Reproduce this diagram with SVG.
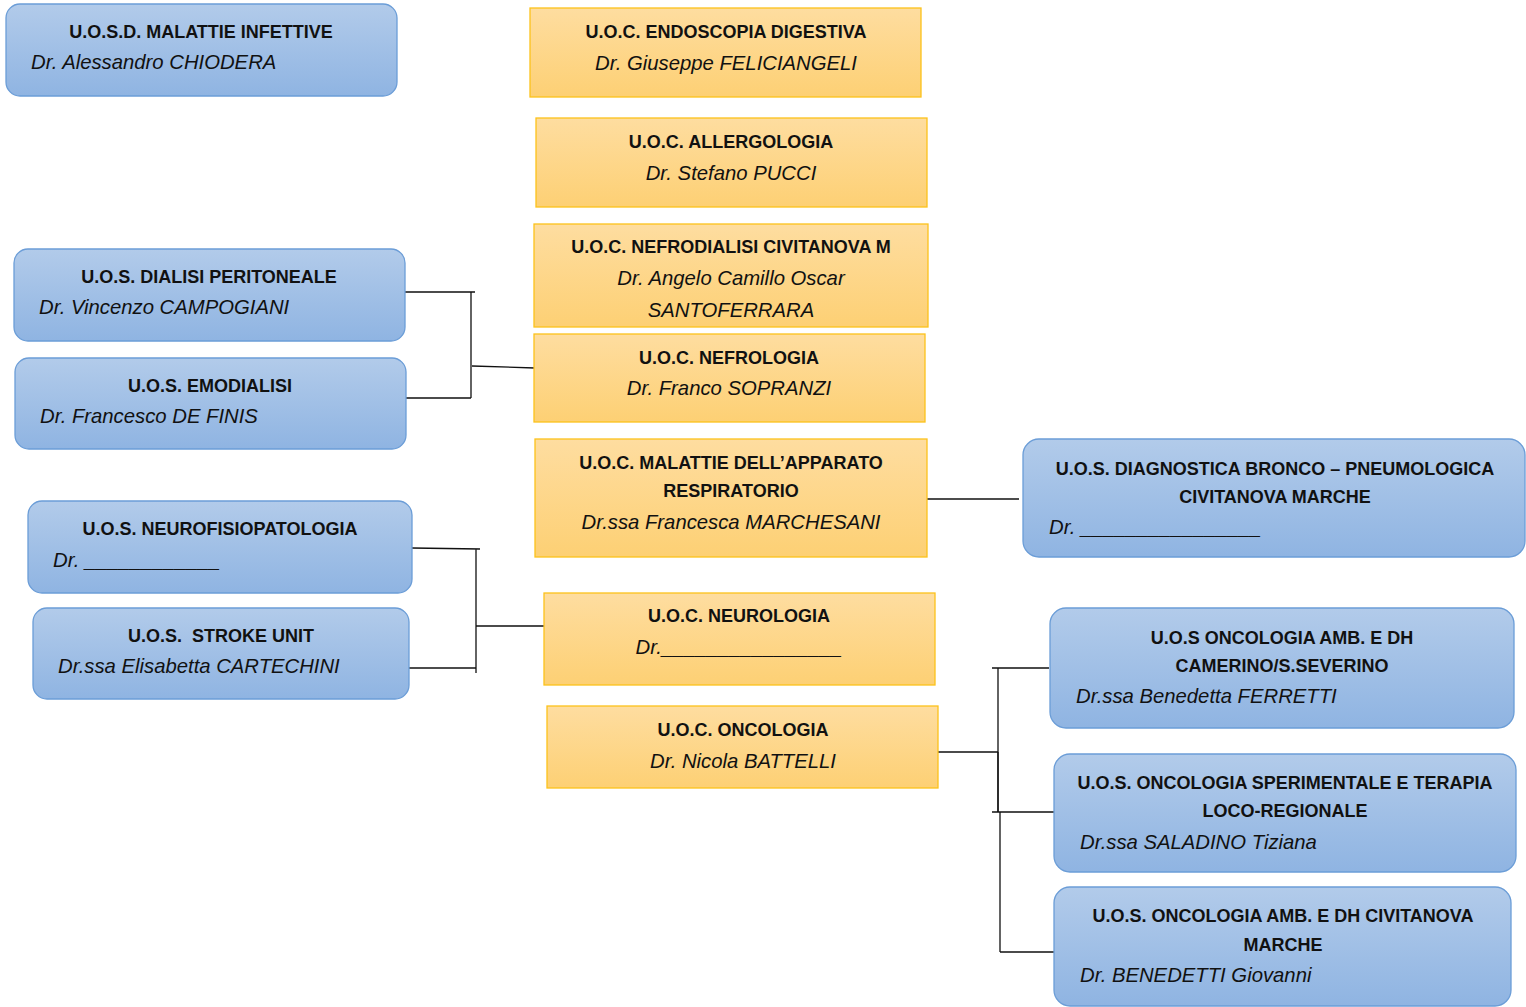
<svg xmlns="http://www.w3.org/2000/svg" width="1526" height="1007" viewBox="0 0 1526 1007">
<defs>
<linearGradient id="gb" x1="0" y1="0" x2="0" y2="1"><stop offset="0" stop-color="#b2cbea"/><stop offset="1" stop-color="#8fb4e2"/></linearGradient>
<linearGradient id="go" x1="0" y1="0" x2="0" y2="1"><stop offset="0" stop-color="#fedda0"/><stop offset="1" stop-color="#fdd074"/></linearGradient>
</defs>
<style>
.b{fill:url(#gb);stroke:#6b9dd7;stroke-width:1.3}
.o{fill:url(#go);stroke:#fcc21b;stroke-width:1.3}
.t{font-family:"Liberation Sans",Arial,sans-serif;font-weight:bold;font-size:18px;fill:#111;text-anchor:middle}
.s{font-family:"Liberation Sans",Arial,sans-serif;font-style:italic;font-size:20.3px;fill:#111}
.c{text-anchor:middle}
.ln{stroke:#111;stroke-width:1.3;fill:none}
</style>
<g id="connectors">
<path class="ln" d="M401,292H475M471,292V398M400,398H471M472,366L535,368"/>
<path class="ln" d="M412,548L480,549M476,549V673M476,626H547"/>
<path class="ln" stroke-width="3" d="M409,668H476"/>
<path class="ln" stroke-width="2" d="M926,499H1019"/>
<path class="ln" d="M938,752H998M998,668V812M1000,812V952M992,668H1049M1000,952H1057"/>
<path class="ln" stroke="#444" stroke-width="3" d="M992,812H1056M998,752V812"/>
</g>
<g id="n1"><rect class="b" x="6" y="4" width="391" height="92" rx="14"/><text class="t" x="201" y="38">U.O.S.D. MALATTIE INFETTIVE</text><text class="s" x="31" y="69">Dr. Alessandro CHIODERA</text></g>
<g id="n2"><rect class="b" x="14" y="249" width="391" height="92" rx="14"/><text class="t" x="209" y="283">U.O.S. DIALISI PERITONEALE</text><text class="s" x="39" y="314">Dr. Vincenzo CAMPOGIANI</text></g>
<g id="n3"><rect class="b" x="15" y="358" width="391" height="91" rx="14"/><text class="t" x="210" y="392">U.O.S. EMODIALISI</text><text class="s" x="40" y="423">Dr. Francesco DE FINIS</text></g>
<g id="n4"><rect class="b" x="28" y="501" width="384" height="92" rx="14"/><text class="t" x="220" y="535">U.O.S. NEUROFISIOPATOLOGIA</text><text class="s" x="53" y="567">Dr. ____________</text></g>
<g id="n5"><rect class="b" x="33" y="608" width="376" height="91" rx="14"/><text class="t" x="221" y="642" xml:space="preserve">U.O.S.  STROKE UNIT</text><text class="s" x="58" y="673">Dr.ssa Elisabetta CARTECHINI</text></g>
<g id="n6"><rect class="b" x="1023" y="439" width="502" height="118" rx="16"/><text class="t" x="1275" y="475">U.O.S. DIAGNOSTICA BRONCO – PNEUMOLOGICA</text><text class="t" x="1275" y="503">CIVITANOVA MARCHE</text><text class="s" x="1049" y="534">Dr. ________________</text></g>
<g id="n7"><rect class="b" x="1050" y="608" width="464" height="120" rx="16"/><text class="t" x="1282" y="644">U.O.S ONCOLOGIA AMB. E DH</text><text class="t" x="1282" y="672">CAMERINO/S.SEVERINO</text><text class="s" x="1076" y="703">Dr.ssa Benedetta FERRETTI</text></g>
<g id="n8"><rect class="b" x="1054" y="754" width="462" height="118" rx="16"/><text class="t" x="1285" y="789">U.O.S. ONCOLOGIA SPERIMENTALE E TERAPIA</text><text class="t" x="1285" y="817">LOCO-REGIONALE</text><text class="s" x="1080" y="849">Dr.ssa SALADINO Tiziana</text></g>
<g id="n9"><rect class="b" x="1054" y="887" width="457" height="119" rx="16"/><text class="t" x="1283" y="922">U.O.S. ONCOLOGIA AMB. E DH CIVITANOVA</text><text class="t" x="1283" y="951">MARCHE</text><text class="s" x="1080" y="982">Dr. BENEDETTI Giovanni</text></g>
<g id="o1"><rect class="o" x="530" y="8" width="391" height="89"/><text class="t" x="726" y="38">U.O.C. ENDOSCOPIA DIGESTIVA</text><text class="s c" x="726" y="70">Dr. Giuseppe FELICIANGELI</text></g>
<g id="o2"><rect class="o" x="536" y="118" width="391" height="89"/><text class="t" x="731" y="148">U.O.C. ALLERGOLOGIA</text><text class="s c" x="731" y="180">Dr. Stefano PUCCI</text></g>
<g id="o3"><rect class="o" x="534" y="224" width="394" height="103"/><text class="t" x="731" y="253">U.O.C. NEFRODIALISI CIVITANOVA M</text><text class="s c" x="731" y="285">Dr. Angelo Camillo Oscar</text><text class="s c" x="731" y="317">SANTOFERRARA</text></g>
<g id="o4"><rect class="o" x="534" y="334" width="391" height="88"/><text class="t" x="729" y="364">U.O.C. NEFROLOGIA</text><text class="s c" x="729" y="395">Dr. Franco SOPRANZI</text></g>
<g id="o5"><rect class="o" x="535" y="439" width="392" height="118"/><text class="t" x="731" y="469">U.O.C. MALATTIE DELL’APPARATO</text><text class="t" x="731" y="497">RESPIRATORIO</text><text class="s c" x="731" y="529">Dr.ssa Francesca MARCHESANI</text></g>
<g id="o6"><rect class="o" x="544" y="593" width="391" height="92"/><text class="t" x="739" y="622">U.O.C. NEUROLOGIA</text><text class="s c" x="739" y="654">Dr.________________</text></g>
<g id="o7"><rect class="o" x="547" y="706" width="391" height="82"/><text class="t" x="743" y="736">U.O.C. ONCOLOGIA</text><text class="s c" x="743" y="768">Dr. Nicola BATTELLI</text></g>
</svg>
